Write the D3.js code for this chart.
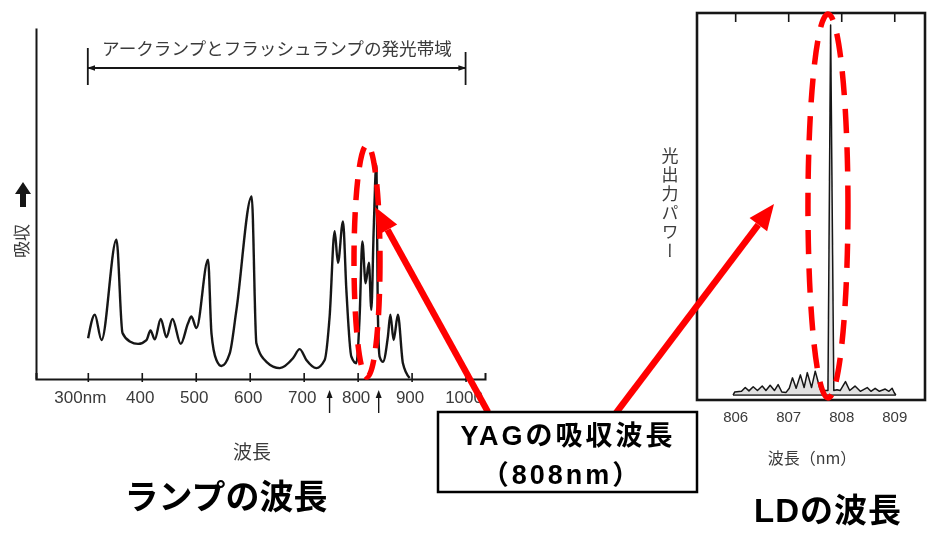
<!DOCTYPE html>
<html>
<head>
<meta charset="utf-8">
<script src="https://cdn.jsdelivr.net/npm/d3@7"></script>
<style>
  html, body { margin: 0; padding: 0; background: #fff; }
  svg { display: block; }
</style>
</head>
<body>
<svg id="chart" width="932" height="535"></svg>
<script>
// ---- Lamp-pumped Nd:YAG absorption spectrum (wavelength in nm, relative absorption) ----
const lampWavelength = [300.6, 313, 325.4, 353.1, 364.3, 377.8, 393.1, 408.7, 416.1, 424.1,
  435.2, 445.7, 456.9, 472.2, 485.7, 492, 501.3, 522.8, 529.1, 538.3,
  547.6, 563, 575.4, 603.7, 612.4, 630.9, 655.6, 680.2, 692.6, 705,
  723.5, 738.9, 748.1, 757.4, 763.5, 772.8, 779.1, 788.3, 797.6, 803.7,
  808.7, 814.8, 820.9, 825.4, 829.6, 834.6, 837.6, 840.7, 846.9, 856.1,
  860.6, 866.7, 874.6, 883.9, 896.3];
const lampAbsorption = [11.6, 18.3, 11.1, 39.7, 13.1, 10.7, 10, 11.1, 13.8, 11.3,
  17.1, 11.9, 17.1, 10, 15.9, 17.8, 14.5, 34, 13.1, 5.4,
  3.7, 7.3, 19.7, 52, 10.2, 4.9, 3.1, 5.9, 8.5, 5.4,
  3.1, 5.4, 17.8, 42.1, 33.1, 44.9, 25.4, 6.4, 4.5, 17.8,
  39.2, 27.3, 33.1, 19.7, 41.7, 61.1, 17.8, 6.4, 4.9, 12.1,
  18.3, 11.1, 18.3, 4.5, 0.3];
const lampTicks = [300, 400, 500, 600, 700, 800, 900, 1000];
const lampTickLabels = ["300nm", "400", "500", "600", "700", "800", "900", "1000"];
const lampMarkers = [748, 839];          // small arrows under the axis
const lampBand = [300, 1000];            // arc / flash lamp emission band

// ---- Laser diode output spectrum (wavelength in nm, relative power) ----
const ldWavelength = [805.96, 805.99, 806.12, 806.19, 806.26, 806.34, 806.42, 806.51, 806.58, 806.66,
  806.74, 806.81, 806.88, 806.96, 807.02, 807.08, 807.15, 807.23, 807.30, 807.36,
  807.44, 807.51, 807.60, 807.70, 807.75, 807.80, 807.86, 807.92, 807.98, 808.08,
  808.16, 808.26, 808.36, 808.49, 808.56, 808.64, 808.72, 808.83, 808.90, 808.96,
  809.00, 809.03];
const ldPower = [0.8, 1.6, 1.8, 2.8, 1.9, 3.0, 2.0, 3.2, 2.0, 3.4,
  2.0, 3.6, 1.6, 1.5, 2.6, 5.4, 2.6, 6.2, 2.8, 6.8,
  2.8, 7.2, 2.4, 2.0, 2.0, 100, 2.0, 2.2, 2.0, 4.4,
  2.0, 3.2, 1.8, 2.8, 1.8, 2.6, 1.8, 2.4, 1.8, 2.6,
  1.4, 0.8];
const ldFloorWavelength = [805.96, 809.03];
const ldFloorPower = [0.8, 0.8];
const ldTicks = [806, 807, 808, 809];
const ldTickLabels = ["806", "807", "808", "809"];

const svg = d3.select("#chart");
const JP = "'Noto Sans CJK JP', 'Noto Sans', sans-serif";
const SANS = "'Liberation Sans', 'Noto Sans CJK JP', sans-serif";
const INK = "#161616";
const GREY = "#3a3a3a";
const RED = "#ff0000";

const defs = svg.append("defs");
defs.append("filter").attr("id", "soft")
  .append("feGaussianBlur").attr("stdDeviation", 0.45);
defs.append("marker")
  .attr("id", "tip").attr("viewBox", "0 0 10 10")
  .attr("refX", 9).attr("refY", 5)
  .attr("markerWidth", 8).attr("markerHeight", 8)
  .attr("markerUnits", "userSpaceOnUse")
  .attr("orient", "auto-start-reverse")
  .append("path").attr("d", "M0,1.5L10,5L0,8.5Z").attr("fill", INK);

// ================= Lamp spectrum panel =================
const x1 = d3.scaleLinear().domain([204, 1036]).range([36, 485]);
const y1 = d3.scaleLinear().domain([0, 100]).range([379, 28]);

const lamp = svg.append("g").attr("filter", "url(#soft)");

// x axis
const ax1 = lamp.append("g")
  .attr("transform", `translate(0,${y1(0)})`)
  .call(d3.axisBottom(x1)
    .tickValues(lampTicks)
    .tickFormat((d, i) => lampTickLabels[i])
    .tickSizeOuter(0)
    .tickSize(-6)
    .tickPadding(12));
ax1.select(".domain").attr("stroke", INK).attr("stroke-width", 2);
ax1.selectAll(".tick line").attr("stroke", INK).attr("stroke-width", 1.6).attr("y1", 3);
ax1.selectAll(".tick text")
  .attr("fill", GREY)
  .style("font-family", SANS)
  .style("font-size", "17px")
  .attr("dx", (d, i) => i === 0 ? -8 : -2);

// y axis (no ticks)
const ay1 = lamp.append("g")
  .attr("transform", `translate(${x1(204)},0)`)
  .call(d3.axisLeft(y1).tickValues([]).tickSizeOuter(0));
ay1.select(".domain").attr("stroke", INK).attr("stroke-width", 2);

// y label: 吸収 with upward arrow
lamp.append("text")
  .attr("transform", "translate(20,241) rotate(-90)")
  .attr("text-anchor", "middle")
  .attr("dominant-baseline", "central")
  .attr("fill", GREY)
  .style("font-family", JP)
  .style("font-size", "17px")
  .text("吸収");
lamp.append("path")
  .attr("transform", "translate(23,182)")
  .attr("d", "M0,0L8,12L3,12L3,25L-3,25L-3,12L-8,12Z")
  .attr("fill", INK);

// emission band bracket
const band = lamp.append("g");
band.append("line")
  .attr("x1", x1(lampBand[0])).attr("x2", x1(lampBand[1]))
  .attr("y1", 68).attr("y2", 68)
  .attr("stroke", INK).attr("stroke-width", 1.8)
  .attr("marker-start", "url(#tip)").attr("marker-end", "url(#tip)");
band.append("line")
  .attr("x1", x1(lampBand[0])).attr("x2", x1(lampBand[0]))
  .attr("y1", 48).attr("y2", 85)
  .attr("stroke", INK).attr("stroke-width", 1.8);
band.append("line")
  .attr("x1", x1(lampBand[1])).attr("x2", x1(lampBand[1]))
  .attr("y1", 52).attr("y2", 85)
  .attr("stroke", INK).attr("stroke-width", 1.8);
band.append("text")
  .attr("x", 277).attr("y", 47)
  .attr("text-anchor", "middle")
  .attr("dominant-baseline", "central")
  .attr("fill", GREY)
  .style("font-family", JP)
  .style("font-size", "17.6px")
  .text("アークランプとフラッシュランプの発光帯域");

// absorption curve
const lampPts = lampWavelength.map((w, i) => [w, lampAbsorption[i]]);
lamp.append("path")
  .datum(lampPts)
  .attr("fill", "none")
  .attr("stroke", INK)
  .attr("stroke-width", 2.4)
  .attr("stroke-linejoin", "round")
  .attr("d", d3.line().x(d => x1(d[0])).y(d => y1(d[1])).curve(d3.curveMonotoneX));

// marker arrows below the axis
const mk = lamp.selectAll(".mk").data(lampMarkers).join("g")
  .attr("class", "mk")
  .attr("transform", d => `translate(${x1(d)},0)`);
mk.append("line").attr("y1", 395).attr("y2", 413)
  .attr("stroke", INK).attr("stroke-width", 1.4);
mk.append("path").attr("d", "M0,390L3,398L-3,398Z").attr("fill", INK);

// x label
lamp.append("text")
  .attr("x", 252).attr("y", 450)
  .attr("text-anchor", "middle")
  .attr("dominant-baseline", "central")
  .attr("fill", GREY)
  .style("font-family", JP)
  .style("font-size", "19px")
  .text("波長");

// ================= Laser diode panel =================
const x2 = d3.scaleLinear().domain([805.28, 809.58]).range([697, 925]);
const y2 = d3.scaleLinear().domain([0, 100]).range([398, 25]);

const ld = svg.append("g").attr("filter", "url(#soft)");

ld.append("rect")
  .attr("x", x2(805.28)).attr("y", 13)
  .attr("width", x2(809.58) - x2(805.28)).attr("height", 400 - 13)
  .attr("fill", "none").attr("stroke", INK).attr("stroke-width", 2.6);

const topAx = ld.append("g")
  .attr("transform", "translate(0,13)")
  .call(d3.axisTop(x2).tickValues(ldTicks).tickFormat("").tickSize(-9).tickSizeOuter(0));
topAx.select(".domain").remove();
topAx.selectAll(".tick line").attr("stroke", INK).attr("stroke-width", 1.6);

const botAx = ld.append("g")
  .attr("transform", "translate(0,400)")
  .call(d3.axisBottom(x2).tickValues(ldTicks)
    .tickFormat((d, i) => ldTickLabels[i])
    .tickSize(0).tickPadding(11));
botAx.select(".domain").remove();
botAx.selectAll(".tick text")
  .attr("fill", GREY)
  .style("font-family", SANS)
  .style("font-size", "15px");

ld.append("path")
  .datum(ldFloorWavelength.map((w, i) => [w, ldFloorPower[i]]))
  .attr("fill", "none").attr("stroke", INK).attr("stroke-width", 1.5)
  .attr("d", d3.line().x(d => x2(d[0])).y(d => y2(d[1])));

ld.append("path")
  .datum(ldWavelength.map((w, i) => [w, ldPower[i]]))
  .attr("fill", "#9a9a9a").attr("fill-opacity", 0.3)
  .attr("stroke", INK).attr("stroke-width", 1.5).attr("stroke-linejoin", "round")
  .attr("d", d3.line().x(d => x2(d[0])).y(d => y2(d[1])));

ld.append("text")
  .attr("x", 670).attr("y", 204)
  .attr("text-anchor", "middle")
  .style("writing-mode", "vertical-rl")
  .style("letter-spacing", "2px")
  .attr("fill", GREY)
  .style("font-family", JP)
  .style("font-size", "17px")
  .text("光出力パワー");

ld.append("text")
  .attr("x", 812).attr("y", 457)
  .attr("text-anchor", "middle")
  .attr("dominant-baseline", "central")
  .attr("fill", GREY)
  .style("font-family", JP)
  .style("font-size", "16px")
  .text("波長（nm）");

// ================= Titles =================
svg.append("text")
  .attr("x", 226).attr("y", 494)
  .attr("text-anchor", "middle").attr("dominant-baseline", "central")
  .attr("fill", "#000")
  .style("font-family", JP).style("font-weight", 700).style("font-size", "34px")
  .text("ランプの波長");
svg.append("text")
  .attr("x", 828).attr("y", 510)
  .attr("text-anchor", "middle").attr("dominant-baseline", "central")
  .attr("fill", "#000")
  .style("font-family", SANS).style("font-weight", 700).style("font-size", "33px")
  .style("letter-spacing", "1px")
  .text("LDの波長");

// ================= Highlights =================
const hl = svg.append("g");
hl.append("ellipse")
  .attr("cx", 367).attr("cy", 261).attr("rx", 13).attr("ry", 116)
  .attr("fill", "none").attr("stroke", RED).attr("stroke-width", 5.5)
  .attr("stroke-dasharray", "21 12");
hl.append("ellipse")
  .attr("cx", x2(807.75)).attr("cy", 206).attr("rx", 20).attr("ry", 192)
  .attr("fill", "none").attr("stroke", RED).attr("stroke-width", 5.5)
  .attr("stroke-dasharray", "24 14");

function arrow(g, from, to) {
  const dx = to[0] - from[0], dy = to[1] - from[1];
  const len = Math.hypot(dx, dy), ux = dx / len, uy = dy / len;
  const headL = 26, headW = 11;
  const bx = to[0] - ux * headL, by = to[1] - uy * headL;
  g.append("line")
    .attr("x1", from[0]).attr("y1", from[1]).attr("x2", bx).attr("y2", by)
    .attr("stroke", RED).attr("stroke-width", 6.5);
  g.append("path")
    .attr("d", `M${to[0]},${to[1]}L${bx - uy * headW},${by + ux * headW}L${bx + uy * headW},${by - ux * headW}Z`)
    .attr("fill", RED);
}
arrow(hl, [488, 412], [375, 207]);
arrow(hl, [616, 413], [774, 204]);

// callout box
const cb = svg.append("g");
cb.append("rect")
  .attr("x", 438).attr("y", 412).attr("width", 259).attr("height", 80)
  .attr("fill", "#fff").attr("stroke", "#000").attr("stroke-width", 2.5);
cb.append("text")
  .attr("x", 568).attr("y", 436)
  .attr("text-anchor", "middle").attr("dominant-baseline", "central")
  .style("font-family", SANS).style("font-weight", 700).style("font-size", "27px")
  .style("letter-spacing", "3px")
  .text("YAGの吸収波長");
cb.append("text")
  .attr("x", 562).attr("y", 475)
  .attr("text-anchor", "middle").attr("dominant-baseline", "central")
  .style("font-family", SANS).style("font-weight", 700).style("font-size", "27px")
  .style("letter-spacing", "3px")
  .text("（808nm）");
</script>
</body>
</html>
